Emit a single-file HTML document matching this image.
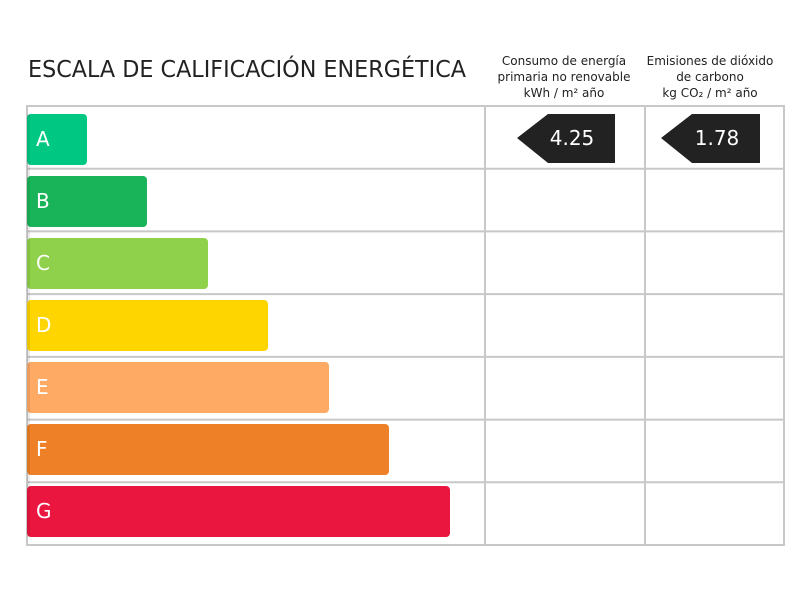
<!DOCTYPE html>
<html><head><style>
body{margin:0;width:800px;height:600px;background:#fff;font-family:"DejaVu Sans Condensed","Liberation Sans",sans-serif;overflow:hidden}
</style></head><body>
<svg width="800" height="600" xmlns="http://www.w3.org/2000/svg" font-family="DejaVu Sans, Liberation Sans, sans-serif">
<text x="28" y="77" font-size="23" fill="#222" textLength="438" lengthAdjust="spacingAndGlyphs">ESCALA DE CALIFICACIÓN ENERGÉTICA</text>
<g font-size="12" fill="#222" text-anchor="middle">
<text x="564" y="65">Consumo de energía</text>
<text x="564" y="81">primaria no renovable</text>
<text x="564" y="97">kWh / m² año</text>
<text x="710" y="65">Emisiones de dióxido</text>
<text x="710" y="81">de carbono</text>
<text x="710" y="97">kg CO₂ / m² año</text>
</g>
<g fill="none" stroke="#c8c8c8" stroke-width="2">
<rect x="27" y="106" width="757" height="439"/>
<line x1="485" y1="106" x2="485" y2="545"/>
<line x1="645" y1="106" x2="645" y2="545"/>
<line x1="27" y1="168.7" x2="784" y2="168.7"/>
<line x1="27" y1="231.4" x2="784" y2="231.4"/>
<line x1="27" y1="294.1" x2="784" y2="294.1"/>
<line x1="27" y1="356.9" x2="784" y2="356.9"/>
<line x1="27" y1="419.6" x2="784" y2="419.6"/>
<line x1="27" y1="482.3" x2="784" y2="482.3"/>
</g>
<g>
<rect x="27" y="114" width="60" height="51" rx="4" fill="#00c882"/>
<rect x="27" y="176" width="120" height="51" rx="4" fill="#19b459"/>
<rect x="27" y="238" width="181" height="51" rx="4" fill="#8fd14a"/>
<rect x="27" y="300" width="241" height="51" rx="4" fill="#ffd500"/>
<rect x="27" y="362" width="302" height="51" rx="4" fill="#fea964"/>
<rect x="27" y="424" width="362" height="51" rx="4" fill="#ee8027"/>
<rect x="27" y="486" width="423" height="51" rx="4" fill="#eb1640"/>
<rect x="27" y="114" width="3" height="423" fill="rgba(0,0,0,0.08)"/>
</g>
<g fill="#fff" font-size="20">
<text x="36" y="146">A</text>
<text x="36" y="208">B</text>
<text x="36" y="270">C</text>
<text x="36" y="332">D</text>
<text x="36" y="394">E</text>
<text x="36" y="456">F</text>
<text x="36" y="518">G</text>
</g>
<polygon points="517,138 548,114 615,114 615,163 548,163" fill="#222"/>
<polygon points="661,138 692,114 760,114 760,163 692,163" fill="#222"/>
<g fill="#fff" font-size="20" text-anchor="middle">
<text x="572" y="145">4.25</text>
<text x="717" y="145">1.78</text>
</g>
</svg>
</body></html>
